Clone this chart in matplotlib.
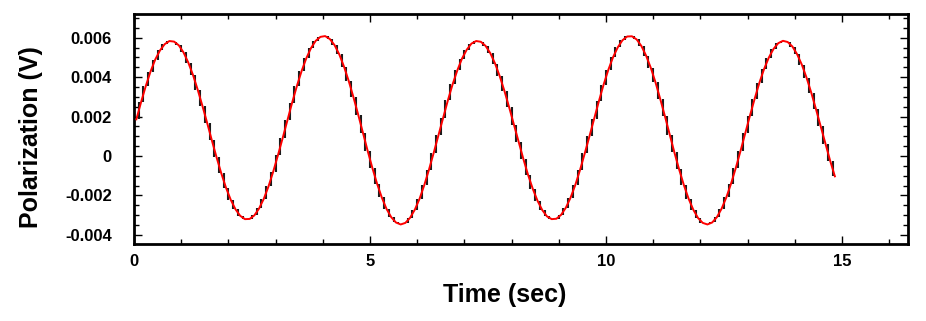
import numpy as np
import matplotlib
matplotlib.use("Agg")
import matplotlib.pyplot as plt
from matplotlib.ticker import MultipleLocator, FuncFormatter

# sampling of the histogram (bin centres, seconds)
t_start = 0.05
bin_width = 0.1

# polarization per bin, in mV
polar_mv = [
    1.86, 2.73, 3.55, 4.28, 4.89, 5.35, 5.67, 5.83, 5.80, 5.61,
    5.25, 4.74, 4.11, 3.36, 2.54, 1.68, 0.79, -0.07, -0.88, -1.61,
    -2.22, -2.70, -3.03, -3.20, -3.19, -3.01, -2.66, -2.17, -1.54, -0.79,
    0.04, 0.91, 1.81, 2.70, 3.54, 4.30, 4.95, 5.47, 5.84, 6.04,
    6.08, 5.93, 5.62, 5.15, 4.53, 3.80, 2.98, 2.10, 1.18, 0.27,
    -0.60, -1.40, -2.10, -2.68, -3.10, -3.37, -3.47, -3.39, -3.13, -2.72,
    -2.17, -1.48, -0.69, 0.16, 1.05, 1.95, 2.82, 3.63, 4.34, 4.94,
    5.39, 5.70, 5.83, 5.79, 5.58, 5.21, 4.69, 4.04, 3.29, 2.46,
    1.59, 0.71, -0.15, -0.96, -1.67, -2.27, -2.74, -3.06, -3.20, -3.18,
    -2.98, -2.62, -2.11, -1.47, -0.71, 0.13, 1.00, 1.90, 2.78, 3.62,
    4.37, 5.01, 5.51, 5.87, 6.06, 6.07, 5.91, 5.58, 5.09, 4.47,
    3.73, 2.89, 2.01, 1.09, 0.18, -0.68, -1.47, -2.16, -2.72, -3.14,
    -3.39, -3.47, -3.37, -3.10, -2.67, -2.10, -1.40, -0.61, 0.25, 1.15,
    2.04, 2.90, 3.71, 4.41, 4.99, 5.43, 5.72, 5.84, 5.78, 5.55,
    5.16, 4.63, 3.97, 3.21, 2.37, 1.50, 0.62, -0.24, -1.03,
]

x_ticks = [0, 5, 10, 15]
y_ticks = [-0.004, -0.002, 0, 0.002, 0.004, 0.006]

polar = np.array(polar_mv) * 1e-3
t = t_start + bin_width * np.arange(len(polar))

plt.rcParams['font.family'] = ['Liberation Sans', 'DejaVu Sans']
plt.rcParams['font.weight'] = 'bold'

fig = plt.figure(figsize=(9.26, 3.21), dpi=100)
ax = fig.add_axes([0.1447, 0.2399, 0.8359, 0.7165])

# histogram risers between neighbouring bins (horizontals hidden by the fit)
ax.vlines(t[:-1] + bin_width / 2, polar[:-1], polar[1:],
          color='#1a1a1a', lw=1.5, zorder=2)
ax.plot(t, polar, color='red', lw=1.4, zorder=3)

ax.set_xlim(0, 16.4)
ax.set_ylim(-0.00446, 0.0072)

ax.xaxis.set_major_locator(MultipleLocator(5))
ax.xaxis.set_minor_locator(MultipleLocator(1))
ax.yaxis.set_major_locator(MultipleLocator(0.002))
ax.yaxis.set_minor_locator(MultipleLocator(0.0005))
ax.set_xticks(x_ticks)
ax.set_yticks(y_ticks)


def fmt_y(v, pos):
    if abs(v) < 1e-9:
        return '0'
    return ('%.3f' % v)


ax.yaxis.set_major_formatter(FuncFormatter(fmt_y))

ax.tick_params(which='both', direction='in', top=True, right=True,
               width=1.0, labelsize=12)
ax.tick_params(which='major', length=6)
ax.tick_params(which='minor', length=3.5)
ax.tick_params(axis='y', which='major', pad=16)
ax.tick_params(axis='x', which='major', pad=7)
for lab in ax.get_xticklabels() + ax.get_yticklabels():
    lab.set_fontweight('bold')

for sp in ax.spines.values():
    sp.set_linewidth(2.0)

ax.set_xlabel('Time (sec)', fontsize=18, fontweight='bold')
ax.set_ylabel('Polarization (V)', fontsize=18, fontweight='bold')
ax.xaxis.set_label_coords(0.479, -0.17)
ax.yaxis.set_label_coords(-0.117, 0.465)

fig.savefig('out.png', dpi=100)
